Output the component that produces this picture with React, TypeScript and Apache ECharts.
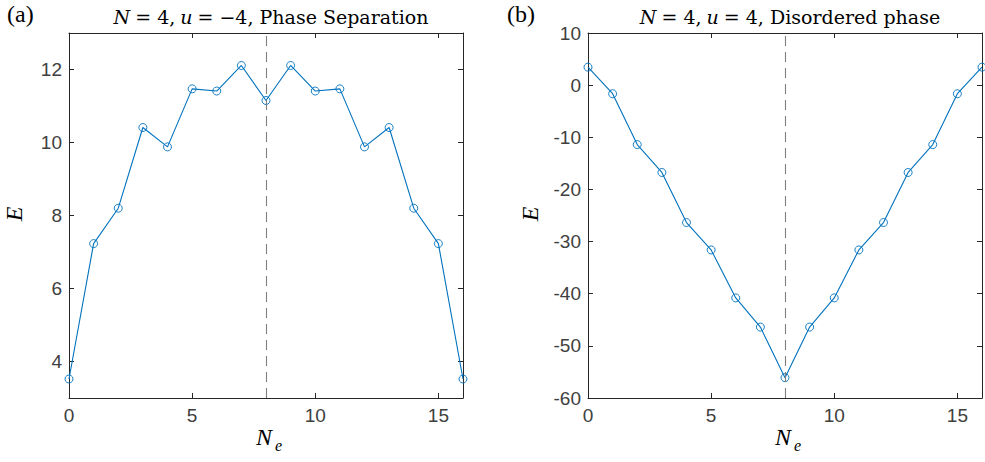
import React, { useEffect, useRef } from "react";
import * as echarts from "echarts";

const neValues = [0, 1, 2, 3, 4, 5, 6, 7, 8, 9, 10, 11, 12, 13, 14, 15, 16];
const energyA = [3.52, 7.23, 8.2, 10.41, 9.88, 11.47, 11.41, 12.11, 11.15, 12.11, 11.41, 11.47, 9.88, 10.41, 8.2, 7.23, 3.52];
const energyB = [3.45, -1.65, -11.4, -16.75, -26.35, -31.6, -40.8, -46.4, -56.1, -46.4, -40.8, -31.6, -26.35, -16.75, -11.4, -1.65, 3.45];
const xTicks = [0, 5, 10, 15];
const halfFilling = 8;

const LINE = "#0072BD";
const AX = "#262626";
const TICKC = "#404040";
const SANS = "'Liberation Sans', Arial, Helvetica, sans-serif";
const SERIF = "'Liberation Serif', 'Times New Roman', serif";
const TSERIF = "'DejaVu Serif', 'Liberation Serif', serif";

export default function App() {
  const ref = useRef<HTMLDivElement>(null);
  useEffect(() => {
    if (!ref.current) return;
    const chart = echarts.init(ref.current, undefined, { renderer: "svg" });
    const grids = [
      { left: 69, top: 33, width: 394, height: 365 },
      { left: 588, top: 33, width: 395, height: 365 },
    ];
    const xAxisBase = (gi: number, pos: "bottom" | "top") => ({
      type: "value" as const,
      gridIndex: gi,
      position: pos,
      min: 0,
      max: 16,
      interval: 5,
      axisLine: { show: true, onZero: false, lineStyle: { color: AX, width: 1 } },
      axisTick: { show: true, inside: true, length: 5, lineStyle: { color: AX } },
      axisLabel: {
        show: pos === "bottom",
        margin: 8,
        color: TICKC,
        fontFamily: SANS,
        fontSize: 19,
        formatter: (v: number) => (xTicks.includes(v) ? String(v) : ""),
      },
      splitLine: { show: false },
    });
    const yAxisBase = (gi: number, pos: "left" | "right", min: number, max: number, interval?: number) => {
      const a: any = {
        type: "value",
        gridIndex: gi,
        position: pos,
        min,
        max,
        axisLine: { show: true, onZero: false, lineStyle: { color: AX, width: 1 } },
        axisTick: { show: true, inside: true, length: 5, lineStyle: { color: AX } },
        axisLabel: {
          show: pos === "left",
          margin: 7,
          color: TICKC,
          fontFamily: SANS,
          fontSize: 19,
          formatter: (v: number) => (gi === 0 ? (v % 2 === 0 ? String(v) : "") : String(v)),
        },
        splitLine: { show: false },
      };
      if (interval) a.interval = interval;
      else a.splitNumber = 5;
      return a;
    };
    const mkSeries = (gi: number, data: number[]) => ({
      type: "line" as const,
      xAxisIndex: gi * 2,
      yAxisIndex: gi * 2,
      data: neValues.map((x, i) => [x, data[i]]),
      symbol: "circle",
      symbolSize: 8,
      lineStyle: { color: LINE, width: 1.1 },
      itemStyle: { color: "rgba(0,0,0,0)", borderColor: LINE, borderWidth: 0.9 },
      clip: false,
      markLine: {
        silent: true,
        symbol: "none",
        label: { show: false },
        lineStyle: { color: "#7f7f7f", type: [10, 6], width: 1.1 },
        data: [{ xAxis: halfFilling }],
      },
    });
    const titleRich = {
      i: { fontFamily: TSERIF, fontStyle: "italic", fontWeight: "normal", fontSize: 19, color: "#000" },
      r: { fontFamily: TSERIF, fontWeight: "normal", fontSize: 19, color: "#000" },
    };
    chart.setOption({
      animation: false,
      title: [
        {
          text: "{i|N} {r|= 4,} {i|u} {r|= −4, Phase Separation}",
          left: 266,
          top: 2,
          textAlign: "center",
          textStyle: { fontWeight: "normal", rich: titleRich },
        },
        {
          text: "{i|N} {r|= 4,} {i|u} {r|= 4, Disordered phase}",
          left: 785,
          top: 2,
          textAlign: "center",
          textStyle: { fontWeight: "normal", rich: titleRich },
        },
      ],
      grid: grids,
      xAxis: [xAxisBase(0, "bottom"), xAxisBase(0, "top"), xAxisBase(1, "bottom"), xAxisBase(1, "top")],
      yAxis: [
        yAxisBase(0, "left", 3, 13),
        yAxisBase(0, "right", 3, 13),
        yAxisBase(1, "left", -60, 10, 10),
        yAxisBase(1, "right", -60, 10, 10),
      ],
      series: [mkSeries(0, energyA), mkSeries(1, energyB)],
      graphic: [
        { type: "text", left: 7, top: 2, style: { text: "(a)", font: `24px ${SERIF}`, fill: "#000" } },
        { type: "text", left: 507, top: 2, style: { text: "(b)", font: `24px ${SERIF}`, fill: "#000" } },
        { type: "text", x: 14, y: 214, rotation: Math.PI / 2, style: { text: "E", font: `italic 24px ${SERIF}`, fill: "#000", align: "center", verticalAlign: "middle" } },
        { type: "text", x: 530, y: 214, rotation: Math.PI / 2, style: { text: "E", font: `italic 24px ${SERIF}`, fill: "#000", align: "center", verticalAlign: "middle" } },
        { type: "text", x: 264, y: 437, style: { text: "N", font: `italic 24px ${SERIF}`, fill: "#000", align: "center", verticalAlign: "middle" } },
        { type: "text", x: 275, y: 445, style: { text: "e", font: `italic 16px ${SERIF}`, fill: "#000", align: "left", verticalAlign: "middle" } },
        { type: "text", x: 783, y: 437, style: { text: "N", font: `italic 24px ${SERIF}`, fill: "#000", align: "center", verticalAlign: "middle" } },
        { type: "text", x: 794, y: 445, style: { text: "e", font: `italic 16px ${SERIF}`, fill: "#000", align: "left", verticalAlign: "middle" } },
      ],
    });
    return () => chart.dispose();
  }, []);
  return <div ref={ref} style={{ width: 985, height: 462, position: "absolute", left: 0, top: 0 }} />;
}
